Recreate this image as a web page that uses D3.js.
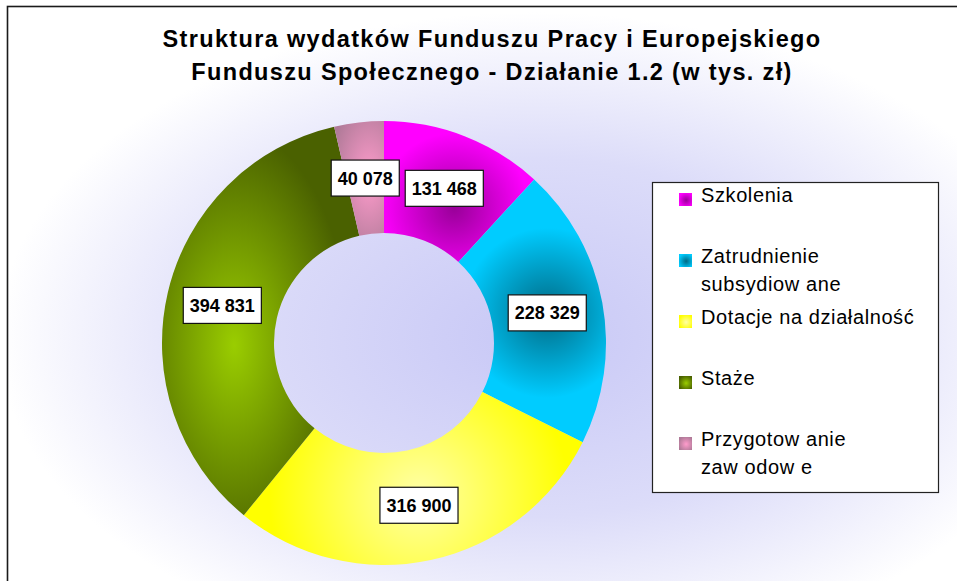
<!DOCTYPE html>
<html>
<head>
<meta charset="utf-8">
<script src="https://cdn.jsdelivr.net/npm/d3@7"></script>
<style>
  html, body { margin: 0; padding: 0; background: #ffffff; }
  svg { display: block; font-family: Arial, "Liberation Sans", sans-serif; }
</style>
</head>
<body>
<svg id="chart" width="957" height="581"></svg>
<script>
// ---- data ----
const titleLines = [
  "Struktura wydatków Funduszu Pracy i Europejskiego",
  "Funduszu Społecznego - Działanie 1.2 (w tys. zł)"
];
const categories = [
  "Szkolenia",
  "Zatrudnienie\nsubsydiow ane",
  "Dotacje na działalność",
  "Staże",
  "Przygotow anie\nzaw odow e"
];
const values = [131468, 228329, 316900, 394831, 40078];

// ---- styles ----
const edgeColors   = ["#ff00ff", "#00ccff", "#ffff00", "#4a6100", "#b07a98"];
const centerColors = ["#990099", "#006a85", "#ffffa6", "#9acd00", "#ff9ccc"];
const gradRX       = [75, 85, 150, 115, 40];
const gradRY       = [75, 85, 150, 215, 80];
const gradShift    = [[10, 20], [0, 0], [0, -10], [12, 40], [4, 0]];

const W = 957, H = 581;
const cx = 384, cy = 343, rOuter = 222, rInner = 110;

const svg = d3.select("#chart");
const defs = svg.append("defs");

// background glow
const bg = defs.append("radialGradient").attr("id", "bgGrad")
  .attr("cx", 0.55).attr("cy", 0.57).attr("r", 0.56).attr("fx", 0.55).attr("fy", 0.57);
bg.append("stop").attr("offset", 0).attr("stop-color", "#c8c8f6");
bg.append("stop").attr("offset", 0.55).attr("stop-color", "#dcdcf9");
bg.append("stop").attr("offset", 1).attr("stop-color", "#ffffff");

svg.append("rect").attr("x", 7.5).attr("y", 6.5).attr("width", W).attr("height", H)
  .attr("fill", "url(#bgGrad)").attr("stroke", "#1a1a1a").attr("stroke-width", 1.6);

// title
const title = svg.append("text").attr("text-anchor", "middle")
  .attr("font-weight", "bold").attr("font-size", 23.5).attr("letter-spacing", 1.35)
  .attr("fill", "#000");
titleLines.forEach((t, i) => {
  title.append("tspan").attr("x", 492).attr("y", 47 + i * 32.5).text(t);
});

// pie
const pie = d3.pie().sort(null).value(d => d)(values);
const arc = d3.arc().innerRadius(rInner).outerRadius(rOuter);
const labelArc = d3.arc().innerRadius(rInner).outerRadius(rOuter);

const g = svg.append("g").attr("transform", `translate(${cx},${cy})`);

pie.forEach((p, i) => {
  const c = labelArc.centroid(p);
  const gx = c[0] + gradShift[i][0], gy = c[1] + gradShift[i][1];
  const gr = defs.append("radialGradient").attr("id", "seg" + i)
    .attr("gradientUnits", "userSpaceOnUse")
    .attr("cx", 0).attr("cy", 0).attr("fx", 0).attr("fy", 0).attr("r", 1)
    .attr("gradientTransform", `translate(${gx},${gy}) scale(${gradRX[i]},${gradRY[i]})`);
  gr.append("stop").attr("offset", 0).attr("stop-color", centerColors[i]);
  gr.append("stop").attr("offset", 1).attr("stop-color", edgeColors[i]);

  const sw = defs.append("radialGradient").attr("id", "sw" + i)
    .attr("cx", 0.55).attr("cy", 0.55).attr("r", 0.6);
  sw.append("stop").attr("offset", 0).attr("stop-color", centerColors[i]);
  sw.append("stop").attr("offset", 1).attr("stop-color", edgeColors[i]);
});

g.selectAll("path.slice").data(pie).enter().append("path")
  .attr("class", "slice")
  .attr("d", arc)
  .attr("fill", (d, i) => `url(#seg${i})`);

// value labels
const loc = d3.formatLocale({ decimal: ",", thousands: " ", grouping: [3], currency: ["", ""] });
const fmt = loc.format(",d");

const lbl = g.selectAll("g.lbl").data(pie).enter().append("g")
  .attr("class", "lbl")
  .attr("transform", d => `translate(${labelArc.centroid(d)})`);
lbl.each(function (d) {
  const gg = d3.select(this);
  const rect = gg.append("rect").attr("fill", "#fff").attr("stroke", "#111").attr("stroke-width", 1.2);
  const t = gg.append("text").attr("text-anchor", "middle").attr("dy", "0.36em")
    .attr("font-weight", "bold").attr("font-size", 18).attr("fill", "#000")
    .text(fmt(d.data));
  const w = t.node().getComputedTextLength() + 13;
  rect.attr("x", -w / 2).attr("y", -18).attr("width", w).attr("height", 36);
});

// legend
const lx = 652, ly = 182, lw = 286, lh = 310;
svg.append("rect").attr("x", lx + 0.5).attr("y", ly + 0.5).attr("width", lw).attr("height", lh)
  .attr("fill", "#fff").attr("stroke", "#222").attr("stroke-width", 1.2);

const legend = svg.append("g");
categories.forEach((name, i) => {
  const yb = 202 + i * 61;
  legend.append("rect").attr("x", 679).attr("y", yb - 9).attr("width", 13).attr("height", 13)
    .attr("fill", `url(#sw${i})`);
  const t = legend.append("text").attr("font-size", 20).attr("letter-spacing", 0.6).attr("fill", "#000");
  name.split("\n").forEach((ln, j) => {
    t.append("tspan").attr("x", 701).attr("y", yb + j * 27.5).text(ln);
  });
});
</script>
</body>
</html>
